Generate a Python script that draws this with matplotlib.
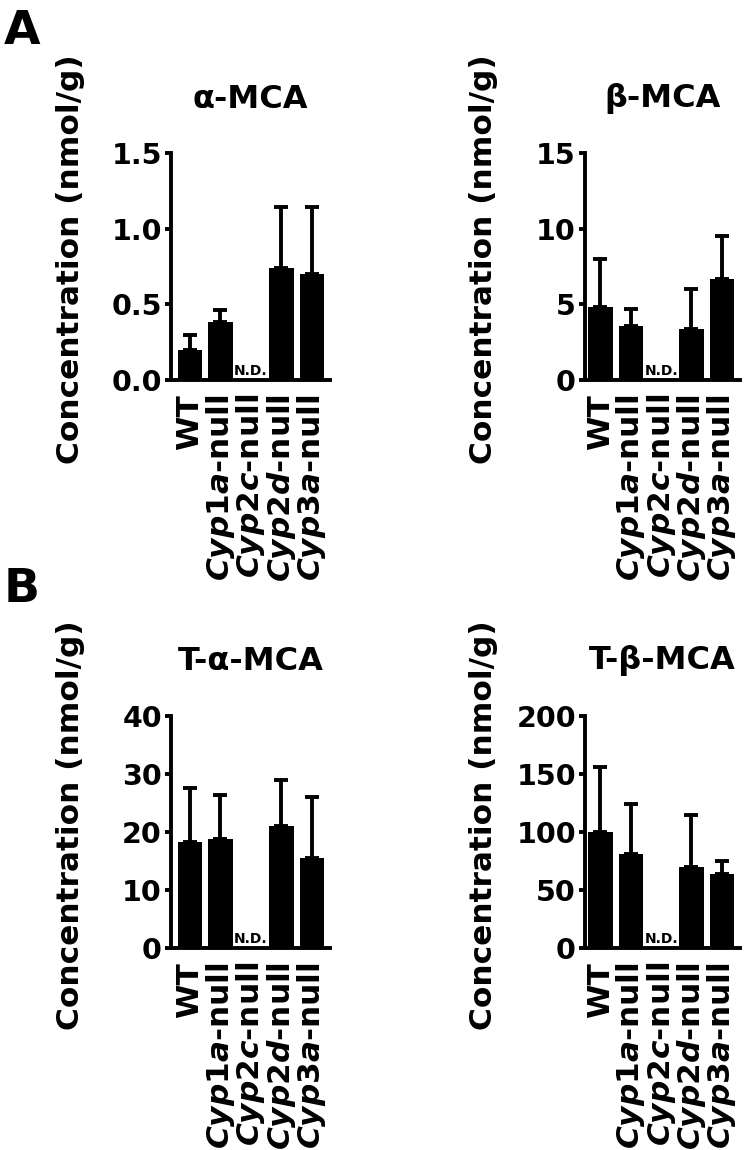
import numpy as np
import matplotlib
matplotlib.use("Agg")
import matplotlib.pyplot as plt

plt.rcParams['font.family'] = ['DejaVu Sans']
plt.rcParams['font.weight'] = 'bold'
plt.rcParams['mathtext.fontset'] = 'custom'
plt.rcParams['mathtext.rm'] = 'DejaVu Sans:bold'
plt.rcParams['mathtext.it'] = 'DejaVu Sans:italic:bold'
plt.rcParams['mathtext.bf'] = 'DejaVu Sans:bold'

# groups on the x axis
groups = ['WT', r'$\mathit{Cyp1a}$-null', r'$\mathit{Cyp2c}$-null',
          r'$\mathit{Cyp2d}$-null', r'$\mathit{Cyp3a}$-null']

# mean and SD (nmol/g); nan = not detected
a_mca_mean = [0.20, 0.38, np.nan, 0.74, 0.70]
a_mca_sd = [0.10, 0.08, np.nan, 0.40, 0.44]
b_mca_mean = [4.8, 3.6, np.nan, 3.4, 6.7]
b_mca_sd = [3.2, 1.1, np.nan, 2.6, 2.8]
ta_mca_mean = [18.2, 18.8, np.nan, 21.0, 15.6]
ta_mca_sd = [9.4, 7.6, np.nan, 8.0, 10.4]
tb_mca_mean = [100, 81, np.nan, 69.5, 64]
tb_mca_sd = [56, 43, np.nan, 45.5, 11]

titles = ['α-MCA', 'β-MCA', 'T-α-MCA', 'T-β-MCA']
yticks = [[0.0, 0.5, 1.0, 1.5], [0, 5, 10, 15],
          [0, 10, 20, 30, 40], [0, 50, 100, 150, 200]]
ytick_fmt = ['{:.1f}', '{:d}', '{:d}', '{:d}']

W, H = 747, 1150
fig = plt.figure(figsize=(W / 100, H / 100), dpi=100)

# axes boxes in pixels: left, right, top, bottom
boxes = [(171, 330, 153, 380), (585, 740, 153, 380),
         (171, 330, 716, 948), (585, 740, 716, 948)]
xlims = [(-0.62, 4.59), (-0.51, 4.6), (-0.62, 4.59), (-0.51, 4.6)]
title_y = [99, 99, 661, 661]
ylabel_x = [71, 484, 71, 484]

means = [a_mca_mean, b_mca_mean, ta_mca_mean, tb_mca_mean]
sds = [a_mca_sd, b_mca_sd, ta_mca_sd, tb_mca_sd]

x = np.arange(len(groups))
for i in range(4):
    l, r, t, b = boxes[i]
    ax = fig.add_axes([l / W, 1 - b / H, (r - l) / W, (b - t) / H])
    m = np.array(means[i], dtype=float)
    s = np.array(sds[i], dtype=float)
    ok = ~np.isnan(m)
    ax.bar(x[ok], m[ok], width=0.8, color='black', zorder=2)
    ax.errorbar(x[ok], m[ok], yerr=[np.zeros(ok.sum()), s[ok]], fmt='none',
                ecolor='black', elinewidth=2.8, capsize=4.8, capthick=2.8, zorder=1)
    for j in np.where(~ok)[0]:
        ax.text(x[j], 0.01 * yticks[i][-1], 'N.D.', ha='center', va='bottom',
                fontsize=10, fontweight='bold')
    ax.set_xlim(*xlims[i])
    ax.set_ylim(yticks[i][0], yticks[i][-1])
    ax.set_yticks(yticks[i])
    ax.set_yticklabels([ytick_fmt[i].format(v) for v in yticks[i]])
    ax.set_xticks(x)
    ax.set_xticklabels(groups, rotation=90, ha='center', va='top')
    ax.tick_params(axis='x', length=0, pad=10, labelsize=22.5)
    ax.tick_params(axis='y', length=4.5, width=2.8, labelsize=20.5, pad=2)
    for sp in ['top', 'right']:
        ax.spines[sp].set_visible(False)
    for sp in ['left', 'bottom']:
        ax.spines[sp].set_linewidth(2.8)
    for lab in ax.get_yticklabels() + ax.get_xticklabels():
        lab.set_fontweight('bold')
    cx = (l + r) / 2
    fig.text(cx / W, 1 - title_y[i] / H, titles[i], ha='center', va='center',
             fontsize=23, fontweight='bold')
    fig.text(ylabel_x[i] / W, 1 - ((t + b) / 2 - 7) / H, 'Concentration (nmol/g)',
             rotation=90, ha='center', va='center', fontsize=22.5, fontweight='bold')

fig.text(4 / W, 1 - 31 / H, 'A', ha='left', va='center', fontsize=34, fontweight='bold')
fig.text(4 / W, 1 - 589 / H, 'B', ha='left', va='center', fontsize=34, fontweight='bold')

fig.savefig('out.png', dpi=100)
